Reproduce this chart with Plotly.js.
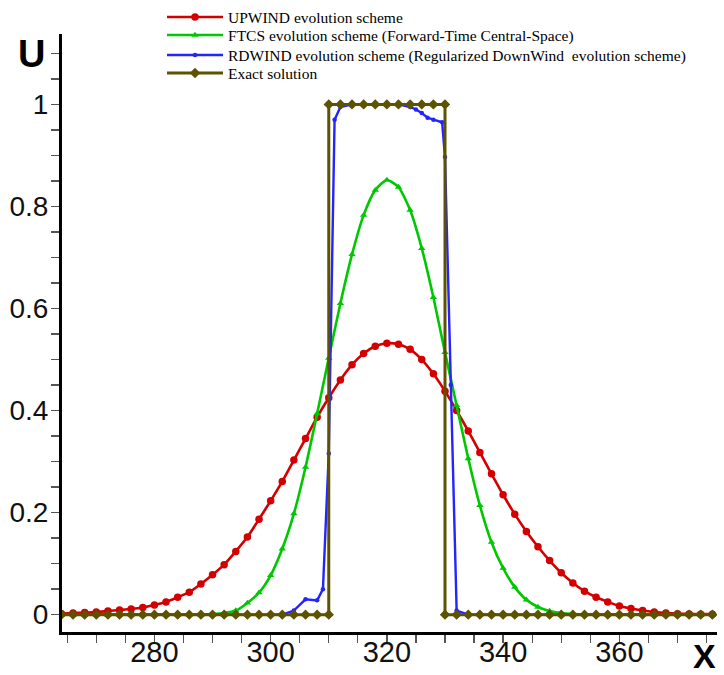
<!DOCTYPE html>
<html>
<head>
<meta charset="utf-8">
<script src="https://cdn.plot.ly/plotly-3.0.1.min.js"></script>
<style>html,body{margin:0;padding:0;background:#fff;}#chart{width:724px;height:675px;}</style>
</head>
<body>
<div id="chart"></div>
<script>
// Shared x grid (every 2 units) for UPWIND and FTCS
const xGrid = [264,266,268,270,272,274,276,278,280,282,284,286,288,290,292,294,296,298,300,302,304,306,308,310,312,314,316,318,320,322,324,326,328,330,332,334,336,338,340,342,344,346,348,350,352,354,356,358,360,362,364,366,368,370,372,374,376];

// UPWIND evolution scheme
const upwindU = [0.002,0.003,0.004,0.005,0.007,0.009,0.011,0.014,0.019,0.025,0.034,0.044,0.060,0.078,0.098,0.124,0.152,0.187,0.223,0.261,0.303,0.345,0.387,0.425,0.460,0.490,0.512,0.526,0.532,0.530,0.520,0.500,0.472,0.438,0.400,0.360,0.318,0.276,0.235,0.197,0.163,0.133,0.106,0.082,0.062,0.046,0.034,0.025,0.017,0.012,0.008,0.005,0.003,0.002,0.0015,0.001,0.001];

// FTCS evolution scheme
const ftcsU = [0,0,0,0,0,0,0,0,0,0,0,0,0,0.001,0.003,0.008,0.023,0.043,0.077,0.129,0.198,0.289,0.394,0.503,0.610,0.706,0.783,0.832,0.852,0.838,0.793,0.718,0.622,0.514,0.410,0.306,0.214,0.142,0.091,0.054,0.029,0.015,0.007,0.003,0.001,0,0,0,0,0,0,0,0,0,0,0,0];

// RDWIND evolution scheme
const rdwindX = [264,266,268,270,272,274,276,278,280,282,284,286,288,290,292,294,296,298,300,302,304,306,308,309,310,311,312,314,316,318,320,322,324,325,326,327,328,329.5,330,331,332,334,336,338,340,342,344,346,348,350,352,354,356,358,360,362,364,366,368,370,372,374,376];
const rdwindU = [0,0,0,0,0,0,0,0,0,0,0,0,0,0,0,0,0,0,0,0,0.008,0.030,0.028,0.050,0.316,0.970,0.995,1,1,1,1,1,0.995,0.990,0.983,0.974,0.970,0.965,0.897,0.450,0.008,0,0,0,0,0,0,0,0,0,0,0,0,0,0,0,0,0,0,0,0,0,0];

// Exact solution
const exactX = [264,266,268,270,272,274,276,278,280,282,284,286,288,290,292,294,296,298,300,302,304,306,308,310,310,312,314,316,318,320,322,324,326,328,330,330,332,334,336,338,340,342,344,346,348,350,352,354,356,358,360,362,364,366,368,370,372,374,376];
const exactU = [0,0,0,0,0,0,0,0,0,0,0,0,0,0,0,0,0,0,0,0,0,0,0,0,1,1,1,1,1,1,1,1,1,1,1,0,0,0,0,0,0,0,0,0,0,0,0,0,0,0,0,0,0,0,0,0,0,0,0];

const seriesNames = [
  'UPWIND evolution scheme',
  'FTCS evolution scheme (Forward-Time Central-Space)',
  'RDWIND evolution scheme (Regularized DownWind  evolution scheme)',
  'Exact solution'
];
const xTickVals = [280,300,320,340,360];
const yTickVals = [0,0.2,0.4,0.6,0.8,1];
const yTickText = ['0','0.2','0.4','0.6','0.8','1'];

const traces = [
  {x:xGrid, y:upwindU, name:seriesNames[0], legend:'legend', type:'scatter', mode:'lines+markers',
   line:{color:'#d40000', width:2.6, shape:'spline', smoothing:0.6},
   marker:{symbol:'circle', size:7.5, color:'#d40000'}},
  {x:xGrid, y:ftcsU, name:seriesNames[1], legend:'legend2', type:'scatter', mode:'lines+markers',
   line:{color:'#00c800', width:2.6, shape:'spline', smoothing:0.6},
   marker:{symbol:'triangle-up', size:6.5, color:'#00c800'}},
  {x:rdwindX, y:rdwindU, name:seriesNames[2], legend:'legend3', type:'scatter', mode:'lines+markers',
   line:{color:'#2424ff', width:2.4},
   marker:{symbol:'circle', size:4.5, color:'#2424ff'}},
  {x:exactX, y:exactU, name:seriesNames[3], legend:'legend4', type:'scatter', mode:'lines+markers',
   line:{color:'#5c5200', width:3},
   marker:{symbol:'diamond', size:8, color:'#5c5200'}}
];

function legendAt(yPaper) {
  return {x:0.1527, y:yPaper, xanchor:'left', yanchor:'middle',
          font:{family:'Liberation Serif, Times New Roman, serif', size:15.5, color:'#000'},
          itemwidth:56, bgcolor:'rgba(0,0,0,0)', borderwidth:0};
}

const layout = {
  width:724, height:675,
  margin:{l:62, r:7, t:34, b:43, pad:0, autoexpand:false},
  paper_bgcolor:'#ffffff', plot_bgcolor:'#ffffff',
  showlegend:true,
  legend:legendAt(1.0277),
  legend2:legendAt(0.9975),
  legend3:legendAt(0.9641),
  legend4:legendAt(0.9340),
  xaxis:{range:[264.1,376.8], showline:true, linewidth:3, linecolor:'#000',
    ticks:'outside', ticklen:8, tickwidth:1.3, tickcolor:'#555',
    tickmode:'array', tickvals:xTickVals, ticktext:xTickVals.map(String),
    ticklabelstandoff:-16, automargin:false,
    tickfont:{family:'Liberation Sans, Arial, sans-serif', size:29, color:'#111'},
    showgrid:false, zeroline:false,
    minor:{tickmode:'linear', tick0:0, dtick:5, ticks:'outside', ticklen:8, tickwidth:1.3, tickcolor:'#555', showgrid:false}},
  yaxis:{range:[-0.034,1.138], showline:true, linewidth:3, linecolor:'#000',
    ticks:'outside', ticklen:8, tickwidth:1.3, tickcolor:'#555',
    tickmode:'array', tickvals:yTickVals, ticktext:yTickText,
    ticklabelstandoff:-3, automargin:false,
    tickfont:{family:'Liberation Sans, Arial, sans-serif', size:28, color:'#111'},
    showgrid:false, zeroline:false,
    minor:{tickmode:'linear', tick0:0, dtick:0.05, ticks:'outside', ticklen:8, tickwidth:1.3, tickcolor:'#555', showgrid:false}},
  annotations:[
    {text:'U', xref:'paper', yref:'paper', x:-0.0473, y:0.9666, xanchor:'center', yanchor:'middle', showarrow:false,
     font:{family:'Liberation Sans, Arial, sans-serif', size:38, weight:'bold', color:'#000'}},
    {text:'X', xref:'paper', yref:'paper', x:0.9805, y:-0.0405, xanchor:'center', yanchor:'middle', showarrow:false,
     font:{family:'Liberation Sans, Arial, sans-serif', size:34, weight:'bold', color:'#000'}}
  ]
};

Plotly.newPlot('chart', traces, layout, {displayModeBar:false, staticPlot:true});
</script>
</body>
</html>
